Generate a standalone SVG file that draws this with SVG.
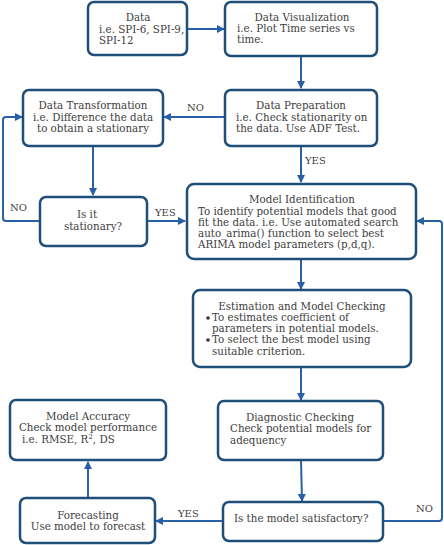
<svg xmlns="http://www.w3.org/2000/svg" width="444" height="545" viewBox="0 0 444 545">
<defs>
<marker id="ah" markerWidth="8" markerHeight="8" refX="7" refY="4" orient="auto" markerUnits="userSpaceOnUse">
<path d="M0,0 L8,4 L0,8 Z" fill="#2860A8"/>
</marker>
<style>
.box{fill:#fff;stroke:#1F4E79;stroke-width:2.5}
.t{font-family:"DejaVu Serif","Liberation Serif",serif;font-size:10.3px;fill:#404040}
.c{text-anchor:middle}
.lbl{font-family:"DejaVu Serif","Liberation Serif",serif;font-size:10px;fill:#404040}
.ln{fill:none;stroke:#2860A8;stroke-width:2}
</style>
</defs>
<rect width="444" height="545" fill="#fff"/>
<g id="connectors">
<path class="ln" d="M187,29 H224" marker-end="url(#ah)"/>
<path class="ln" d="M301,56 V88" marker-end="url(#ah)"/>
<path class="ln" d="M225,117 H164" marker-end="url(#ah)"/>
<path class="ln" d="M301,146 V182" marker-end="url(#ah)"/>
<path class="ln" d="M93,146 V195" marker-end="url(#ah)"/>
<path class="ln" d="M40,221 H6 Q3,221 3,218 V120 Q3,117 6,117 H22" marker-end="url(#ah)"/>
<path class="ln" d="M147,221 H185" marker-end="url(#ah)"/>
<path class="ln" d="M301,259 V289" marker-end="url(#ah)"/>
<path class="ln" d="M301,367 V400" marker-end="url(#ah)"/>
<path class="ln" d="M301,460 L302,501" marker-end="url(#ah)"/>
<path class="ln" d="M383,521 H439 Q442,521 442,518 V224 Q442,221 439,221 H417" marker-end="url(#ah)"/>
<path class="ln" d="M223,521 H156" marker-end="url(#ah)"/>
<path class="ln" d="M88,498 V462" marker-end="url(#ah)"/>
<text class="lbl" x="187" y="111">NO</text>
<text class="lbl" x="305" y="164">YES</text>
<text class="lbl" x="10" y="211">NO</text>
<text class="lbl" x="155" y="216">YES</text>
<text class="lbl" x="416" y="512">NO</text>
<text class="lbl" x="178" y="517">YES</text>
</g>
<g id="data">
<rect class="box" x="88" y="2" width="99" height="53" rx="6"/>
<text class="t c" x="138" y="21">Data</text>
<text class="t" x="99" y="33">i.e. SPI-6, SPI-9,</text>
<text class="t" x="99" y="44">SPI-12</text>
</g>
<g id="data-visualization">
<rect class="box" x="225" y="2" width="152" height="54" rx="6"/>
<text class="t c" x="302" y="21">Data Visualization</text>
<text class="t" x="237" y="32">i.e. Plot Time series vs</text>
<text class="t" x="237" y="43">time.</text>
</g>
<g id="data-preparation">
<rect class="box" x="225" y="90" width="152" height="56" rx="6"/>
<text class="t c" x="301" y="109">Data Preparation</text>
<text class="t" x="236" y="121">i.e. Check stationarity on</text>
<text class="t" x="236" y="132">the data. Use ADF Test.</text>
</g>
<g id="data-transformation">
<rect class="box" x="23" y="90" width="140" height="56" rx="6"/>
<text class="t c" x="93" y="109">Data Transformation</text>
<text class="t c" x="93" y="121">i.e. Difference the data</text>
<text class="t c" x="93" y="132">to obtain a stationary</text>
</g>
<g id="is-stationary">
<rect class="box" x="40" y="197" width="107" height="49" rx="6"/>
<text class="t c" x="87" y="218">Is it</text>
<text class="t c" x="93" y="230">stationary?</text>
</g>
<g id="model-identification">
<rect class="box" x="187" y="184" width="229" height="75" rx="7"/>
<text class="t c" x="302" y="203">Model Identification</text>
<text class="t" x="198" y="215">To identify potential models that good</text>
<text class="t" x="198" y="226">fit the data. i.e. Use automated search</text>
<text class="t" x="198" y="237">auto_arima() function to select best</text>
<text class="t" x="198" y="248">ARIMA model parameters (p,d,q).</text>
</g>
<g id="estimation">
<rect class="box" x="193" y="290" width="218" height="77" rx="7"/>
<text class="t c" x="302" y="310">Estimation and Model Checking</text>
<circle cx="208" cy="318" r="1.8" fill="#333"/>
<text class="t" x="212" y="321">To estimates coefficient of</text>
<text class="t" x="212" y="332">parameters in potential models.</text>
<circle cx="208" cy="340" r="1.8" fill="#333"/>
<text class="t" x="212" y="343">To select the best model using</text>
<text class="t" x="212" y="355">suitable criterion.</text>
</g>
<g id="diagnostic-checking">
<rect class="box" x="218" y="401" width="165" height="59" rx="6"/>
<text class="t c" x="300" y="421">Diagnostic Checking</text>
<text class="t" x="230" y="432">Check potential models for</text>
<text class="t" x="230" y="444">adequency</text>
</g>
<g id="is-satisfactory">
<rect class="box" x="223" y="502" width="160" height="39" rx="6"/>
<text class="t" x="234" y="522">Is the model satisfactory?</text>
</g>
<g id="forecasting">
<rect class="box" x="20" y="498" width="135" height="45" rx="6"/>
<text class="t c" x="88" y="519">Forecasting</text>
<text class="t c" x="88" y="530">Use model to forecast</text>
</g>
<g id="model-accuracy">
<rect class="box" x="10" y="400" width="156" height="60" rx="6"/>
<text class="t c" x="88" y="420">Model Accuracy</text>
<text class="t c" x="88" y="431">Check model performance</text>
<text class="t" x="22" y="443">i.e. RMSE, R<tspan font-size="7" dy="-4">2</tspan><tspan dy="4">, DS</tspan></text>
</g>
</svg>
